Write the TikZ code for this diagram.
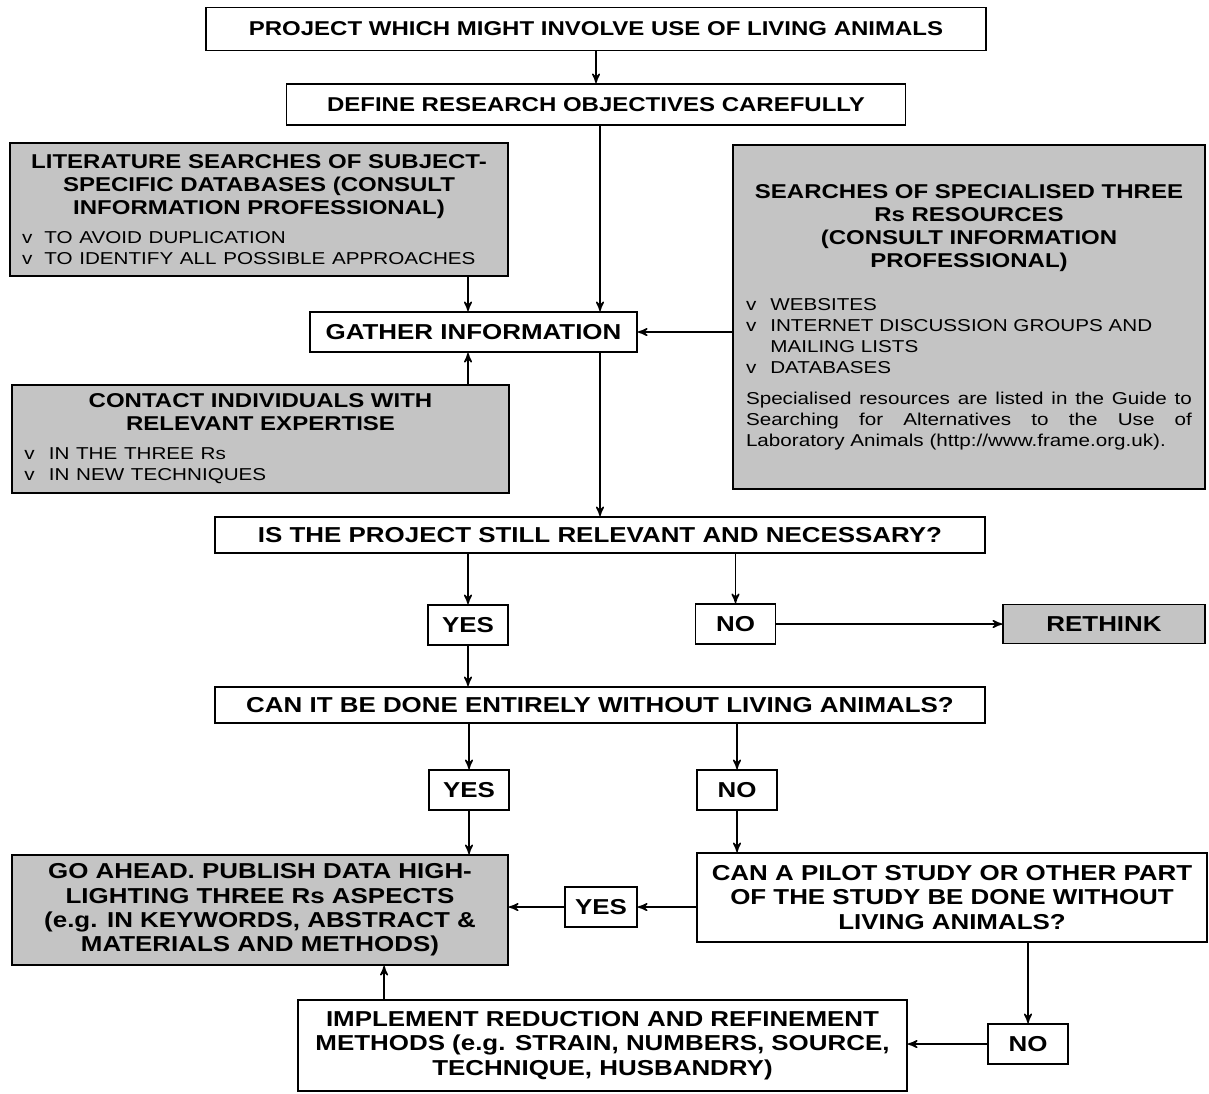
\documentclass[tikz,border=0pt]{standalone}
\usepackage{fontspec}
\setmainfont{Liberation Sans}[FakeStretch=1.2]
\usetikzlibrary{
    arrows,
    calc,
    positioning,
}
\setlength{\parindent}{0pt}
\newcommand{\itemfont}{\mdseries\fontsize{8.6}{10.5}\selectfont}

\begin{document}
\begin{tikzpicture}[x=0.5pt,y=-0.5pt,>=stealth',auto]

    \tikzstyle{commonNode}=[draw=black, line width=0.9pt, font=\bfseries\fontsize{10}{11.6}\selectfont, align=center, inner sep=0pt]
    \tikzstyle{whiteBox}=[commonNode, fill=white]
    \tikzstyle{greyBox}=[commonNode, fill=black!23]
    \tikzstyle{bigText}=[font=\bfseries\fontsize{10.8}{12.2}\selectfont]
    \tikzstyle{answer}=[whiteBox, bigText, minimum width=40pt, minimum height=20pt]
    \tikzstyle{flow}=[->, line width=0.75pt]
    \tikzstyle{into}=[<-, line width=0.75pt]

    \useasboundingbox (0,0) rectangle (1209,1093);

    % Start
    \node at (596,29) [whiteBox, minimum width=390pt, minimum height=21.5pt] (project) {PROJECT WHICH MIGHT INVOLVE USE OF LIVING ANIMALS};
    \node at (596,104.5) [whiteBox, minimum width=309.5pt, minimum height=20.5pt] (define) {DEFINE RESEARCH OBJECTIVES CAREFULLY}
        edge [into] (project);

    % Sources of information
    \node at (259,209.5) [greyBox, minimum width=249pt, minimum height=66.5pt, text width=237pt, align=left] (literature)
        {{\centering LITERATURE SEARCHES OF SUBJECT-\\ SPECIFIC DATABASES (CONSULT\\ INFORMATION PROFESSIONAL)\par}
         \vspace{4pt}
         {\itemfont v\hspace{6pt}TO AVOID DUPLICATION\\ v\hspace{6pt}TO IDENTIFY ALL POSSIBLE APPROACHES\par}};
    \node at (473.5,332) [whiteBox, bigText, minimum width=163.5pt, minimum height=20pt] (gather) {GATHER INFORMATION};
    \node at (260.5,439) [greyBox, minimum width=248.5pt, minimum height=54pt, text width=236pt, align=left] (contact)
        {{\centering CONTACT INDIVIDUALS WITH\\ RELEVANT EXPERTISE\par}
         \vspace{4pt}
         {\itemfont v\hspace{7pt}IN THE THREE Rs\\ v\hspace{7pt}IN NEW TECHNIQUES\par}};
    \node at (969,317) [greyBox, minimum width=236pt, minimum height=172pt, text width=223pt, align=justify] (searches)
        {{\centering SEARCHES OF SPECIALISED THREE\\ Rs RESOURCES\\ (CONSULT INFORMATION\\ PROFESSIONAL)\par}
         \vspace{11pt}
         {\itemfont\begin{tabular}{@{}l@{\hspace{7pt}}l@{}}
            v & WEBSITES\\
            v & INTERNET DISCUSSION GROUPS AND\\
              & MAILING LISTS\\
            v & DATABASES
         \end{tabular}\par}
         \vspace{5pt}
         {\itemfont Specialised resources are listed in the Guide to\linebreak
          Searching for Alternatives to the Use of\linebreak
          Laboratory Animals (http://www.frame.org.uk).\par}};

    % Decisions
    \node at (600,535) [whiteBox, bigText, minimum width=385pt, minimum height=18pt] (relevant) {IS THE PROJECT STILL RELEVANT AND NECESSARY?};
    \node at (468,625) [answer] (yesA) {YES};
    \node at (735.5,624) [answer] (noA) {NO};
    \node at (1104,624) [greyBox, bigText, minimum width=101pt, minimum height=19.5pt] (rethink) {RETHINK}
        edge [into] (noA);
    \node at (600,705) [whiteBox, bigText, minimum width=385pt, minimum height=18pt] (without) {CAN IT BE DONE ENTIRELY WITHOUT LIVING ANIMALS?};
    \node at (469,790) [answer] (yesB) {YES};
    \node at (737,790) [answer] (noB) {NO};
    \node at (260,910) [greyBox, bigText, minimum width=248pt, minimum height=55pt] (goahead)
        {GO AHEAD. PUBLISH DATA HIGH-\\ LIGHTING THREE Rs ASPECTS\\ (e.g. IN KEYWORDS, ABSTRACT \&\\ MATERIALS AND METHODS)};
    \node at (952,897.5) [whiteBox, bigText, minimum width=255pt, minimum height=44.5pt] (pilot)
        {CAN A PILOT STUDY OR OTHER PART\\ OF THE STUDY BE DONE WITHOUT\\ LIVING ANIMALS?};
    \node at (601,907) [answer, minimum width=36pt] (yesC) {YES};
    \node at (1028,1044) [answer] (noC) {NO};
    \node at (602.5,1045.5) [whiteBox, bigText, minimum width=304.5pt, minimum height=45.5pt] (implement)
        {IMPLEMENT REDUCTION AND REFINEMENT\\ METHODS (e.g. STRAIN, NUMBERS, SOURCE,\\ TECHNIQUE, HUSBANDRY)};

    % Connectors
    \draw [flow] (define.south -| relevant.north) -- (gather.north -| relevant.north);
    \draw [flow] (literature.south -| yesA) -- (gather.north -| yesA);
    \draw [flow] (contact.north -| yesA) -- (gather.south -| yesA);
    \draw [flow] (searches.west |- gather) -- (gather.east);
    \draw [flow] (gather.south -| relevant.north) -- (relevant.north);
    \draw [flow] (relevant.south -| yesA) -- (yesA);
    \draw [flow] (relevant.south -| noA) -- (noA);
    \draw [flow] (yesA) -- (without.north -| yesA);
    \draw [flow] (without.south -| yesB) -- (yesB);
    \draw [flow] (without.south -| noB) -- (noB);
    \draw [flow] (yesB) -- (goahead.north -| yesB);
    \draw [flow] (noB) -- (pilot.north -| noB);
    \draw [flow] (pilot.west |- yesC) -- (yesC);
    \draw [flow] (yesC) -- (goahead.east |- yesC);
    \draw [flow] (pilot.south -| noC) -- (noC);
    \draw [flow] (noC) -- (implement.east |- noC);
    \draw [flow] ([xshift=43.5pt]implement.north west) -- ([xshift=43.5pt]implement.north west |- goahead.south);

\end{tikzpicture}
\end{document}
